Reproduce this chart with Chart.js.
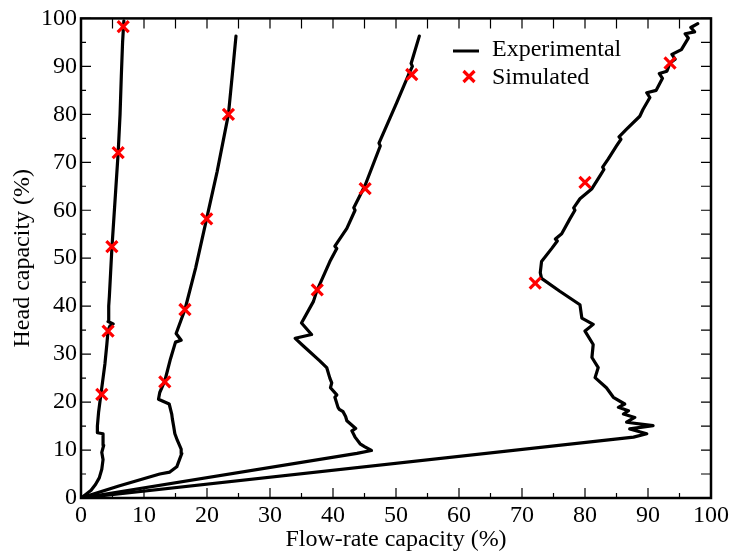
<!DOCTYPE html>
<html>
<head>
<meta charset="utf-8">
<script src="https://cdn.jsdelivr.net/npm/chart.js@4/dist/chart.umd.min.js"></script>
<style>
html,body{margin:0;padding:0;background:#fff;}
#wrap{width:732px;height:560px;position:relative;}
</style>
</head>
<body>
<div id="wrap"><canvas id="c" width="732" height="560"></canvas></div>
<script>
// ---- Data ----
const xTicks = [0, 10, 20, 30, 40, 50, 60, 70, 80, 90, 100];
const yTicks = [0, 10, 20, 30, 40, 50, 60, 70, 80, 90, 100];

// Experimental curve 1
const exp1X = [0, 0.8, 1.6, 2.3, 2.9, 3.3, 3.5, 3.3, 3.6, 3.5, 2.6, 2.6, 2.8, 3.1, 3.5, 3.8, 4.1, 4.3, 4.6, 5.1, 4.3, 4.4, 4.5, 4.7, 4.9, 5.2, 5.5, 5.9, 6.2, 6.4, 6.6, 6.8];
const exp1Y = [0, 0.8, 1.6, 2.8, 4.2, 6.0, 8.0, 9.5, 11.0, 13.4, 13.6, 15.0, 18.0, 21.0, 25.0, 28.0, 32.0, 35.0, 35.9, 36.3, 36.8, 40.0, 42.0, 47.0, 52.0, 58.0, 64.0, 72.0, 80.0, 88.0, 95.0, 99.5];

// Experimental curve 2
const exp2X = [0, 6.0, 12.5, 14.1, 15.2, 16.0, 15.9, 15.3, 14.9, 14.7, 14.5, 14.4, 14.0, 12.3, 12.5, 13.3, 14.2, 15.0, 15.9, 15.1, 16.5, 18.2, 19.9, 21.6, 23.4, 24.0, 24.6];
const exp2Y = [0, 2.5, 5.0, 5.4, 6.5, 9.3, 10.2, 12.0, 13.4, 15.0, 16.5, 17.5, 19.6, 20.6, 22.0, 24.4, 29.0, 32.5, 32.9, 34.3, 39.3, 48.0, 58.0, 68.0, 80.0, 88.0, 96.3];

// Experimental curve 3
const exp3X = [0, 43.8, 46.1, 45.0, 44.3, 43.5, 43.0, 43.6, 42.2, 42.0, 41.6, 41.0, 40.8, 40.3, 40.6, 39.6, 39.8, 39.5, 39.0, 37.9, 35.3, 34.0, 36.6, 35.0, 36.9, 37.4, 39.5, 40.6, 40.3, 42.2, 43.5, 43.3, 45.1, 47.5, 47.3, 50.1, 52.0, 52.6, 52.4, 53.7];
const exp3Y = [0, 9.3, 9.9, 10.7, 11.3, 12.7, 14.0, 14.5, 16.1, 17.0, 18.0, 18.5, 18.9, 21.0, 21.5, 23.0, 24.0, 25.0, 27.2, 28.6, 31.7, 33.3, 34.1, 36.5, 41.0, 43.1, 49.3, 52.0, 52.5, 56.2, 60.0, 60.5, 65.2, 73.4, 74.0, 82.4, 88.3, 90.0, 90.6, 96.3];

// Experimental curve 4
const exp4X = [0, 87.7, 89.8, 87.1, 90.8, 86.6, 87.9, 86.1, 86.9, 85.3, 86.3, 84.5, 83.4, 81.6, 82.1, 81.1, 81.3, 80.0, 81.3, 79.5, 79.2, 77.6, 76.0, 73.1, 72.9, 73.1, 74.7, 75.6, 75.3, 76.3, 77.6, 78.4, 78.2, 79.2, 81.1, 82.4, 83.0, 82.8, 83.7, 85.0, 85.7, 85.4, 86.6, 88.7, 89.2, 90.3, 89.8, 91.3, 92.3, 91.8, 93.0, 93.5, 94.3, 93.8, 95.3, 96.4, 95.9, 97.4, 96.8, 97.9];
const exp4Y = [0, 12.7, 13.4, 14.4, 15.1, 15.8, 16.8, 17.5, 18.2, 18.9, 19.6, 21.0, 23.0, 25.1, 27.2, 29.3, 32.0, 34.8, 36.2, 37.5, 40.3, 41.7, 43.1, 45.8, 47.0, 49.3, 52.0, 53.6, 54.0, 55.1, 58.2, 60.0, 60.5, 62.4, 64.5, 67.2, 68.5, 69.0, 70.7, 73.4, 74.8, 75.3, 76.9, 79.6, 81.0, 83.5, 84.5, 85.0, 87.5, 88.5, 89.0, 90.7, 91.5, 92.5, 93.5, 95.9, 96.8, 97.2, 98.1, 98.9];

// Simulated points
const simX = [6.7, 5.9, 4.9, 4.3, 3.3, 23.4, 19.95, 16.5, 13.3, 52.5, 45.1, 37.5, 93.5, 80.0, 72.1];
const simY = [98.3, 72.0, 52.4, 34.8, 21.6, 80.0, 58.2, 39.3, 24.2, 88.3, 64.5, 43.4, 90.7, 65.8, 44.8];

const FONT = '"Liberation Serif", serif';

function pts(xs, ys) { return xs.map((x, i) => ({x: x, y: ys[i]})); }

function expSet(xs, ys) {
  return {
    label: 'Experimental',
    data: pts(xs, ys),
    showLine: true,
    borderColor: '#000',
    backgroundColor: '#000',
    borderWidth: 3.2,
    pointRadius: 0,
    tension: 0,
    borderJoinStyle: 'round',
    borderCapStyle: 'round',
    order: 2
  };
}

const frameTicks = {
  id: 'frameTicks',
  afterDatasetsDraw(chart) {
    const {ctx, chartArea: a, scales: {x, y}} = chart;
    ctx.save();
    ctx.strokeStyle = '#000';
    ctx.lineWidth = 1.2;
    ctx.beginPath();
    for (let v = 0; v <= 100; v += 5) {
      const major = v % 10 === 0;
      const px = x.getPixelForValue(v);
      const py = y.getPixelForValue(v);
      const L = major ? 10 : 5;
      ctx.moveTo(px, a.bottom); ctx.lineTo(px, a.bottom - L);
      ctx.moveTo(px, a.top); ctx.lineTo(px, a.top + 10);
      ctx.moveTo(a.left, py); ctx.lineTo(a.left + L, py);
      ctx.moveTo(a.right, py); ctx.lineTo(a.right - 10, py);
    }
    ctx.stroke();
    ctx.lineWidth = 2.5;
    ctx.strokeRect(a.left, a.top, a.right - a.left, a.bottom - a.top);

    // legend
    ctx.lineWidth = 3;
    ctx.beginPath();
    ctx.moveTo(453, 51); ctx.lineTo(479, 51);
    ctx.stroke();
    ctx.strokeStyle = '#ff0000';
    ctx.lineWidth = 3.2;
    const mx = 469, my = 76.5, r = 5.5;
    ctx.beginPath();
    ctx.moveTo(mx - r, my - r); ctx.lineTo(mx + r, my + r);
    ctx.moveTo(mx - r, my + r); ctx.lineTo(mx + r, my - r);
    ctx.stroke();
    ctx.fillStyle = '#000';
    ctx.font = '24px ' + FONT;
    ctx.textBaseline = 'alphabetic';
    ctx.textAlign = 'left';
    ctx.fillText('Experimental', 492, 56);
    ctx.fillText('Simulated', 492, 84);
    ctx.restore();
  }
};

function build() {
  Chart.defaults.font.family = FONT;
  Chart.defaults.font.size = 24;
  Chart.defaults.color = '#000';
  new Chart(document.getElementById('c'), {
    type: 'scatter',
    data: {
      datasets: [
        expSet(exp1X, exp1Y),
        expSet(exp2X, exp2Y),
        expSet(exp3X, exp3Y),
        expSet(exp4X, exp4Y),
        {
          label: 'Simulated',
          data: pts(simX, simY),
          showLine: false,
          pointStyle: 'crossRot',
          pointRadius: 7.8,
          pointBorderWidth: 3.2,
          borderColor: '#ff0000',
          backgroundColor: '#ff0000',
          order: 1
        }
      ]
    },
    options: {
      responsive: false,
      animation: false,
      devicePixelRatio: 1,
      layout: {padding: {top: 15, right: 21, left: 0, bottom: 0}},
      plugins: {legend: {display: false}, tooltip: {enabled: false}},
      scales: {
        x: {
          type: 'linear', min: 0, max: 100,
          afterBuildTicks: s => { s.ticks = xTicks.map(v => ({value: v})); },
          afterFit: s => { s.height = 62; },
          grid: {display: false, drawTicks: false},
          border: {display: false},
          ticks: {color: '#000', font: {family: FONT, size: 24}, padding: 3, maxRotation: 0, autoSkip: false},
          title: {display: true, text: 'Flow-rate capacity (%)', color: '#000', font: {family: FONT, size: 24}, padding: {top: 0, bottom: 6}}
        },
        y: {
          type: 'linear', min: 0, max: 100,
          afterBuildTicks: s => { s.ticks = yTicks.map(v => ({value: v})); },
          afterFit: s => { s.width = 81; },
          grid: {display: false, drawTicks: false},
          border: {display: false},
          ticks: {color: '#000', font: {family: FONT, size: 24}, padding: 4, autoSkip: false},
          title: {display: true, text: 'Head capacity (%)', color: '#000', font: {family: FONT, size: 24}, padding: {top: 8, bottom: 0}}
        }
      }
    },
    plugins: [frameTicks]
  });
}

if (document.fonts && document.fonts.load) {
  document.fonts.load('24px "Liberation Serif"').then(build, build);
} else {
  build();
}
</script>
</body>
</html>
